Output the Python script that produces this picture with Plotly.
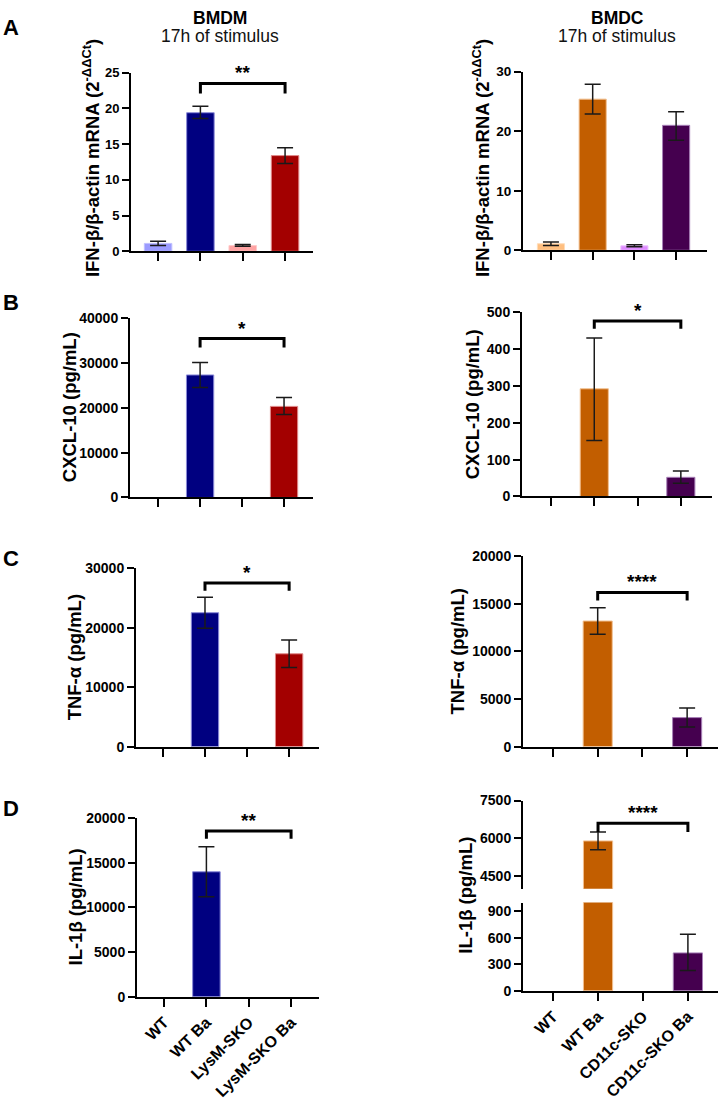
import plotly.graph_objects as go

W, H = 720, 1100

cats_bmdm = ["WT", "WT Ba", "LysM-SKO", "LysM-SKO Ba"]
cats_bmdc = ["WT", "WT Ba", "CD11c-SKO", "CD11c-SKO Ba"]

colors_bmdm = ["#9b9bff", "#000080", "#ffa3a3", "#a30000"]
colors_bmdc = ["#ffbf80", "#c25e00", "#df8cff", "#45004f"]
edges_bmdm = ["#c0c0ff", "#8a8ad8", "#ffcaca", "#e08a8a"]
edges_bmdc = ["#ffdcb8", "#f2c090", "#ecc0ff", "#a880b8"]

# A  IFN-beta / beta-actin mRNA (2^-ddCt)
ifn_bmdm = [1.1, 19.4, 0.8, 13.4]
ifn_bmdm_lo = [0.8, 18.6, 0.7, 12.3]
ifn_bmdm_hi = [1.4, 20.3, 0.95, 14.5]
ifn_bmdc = [1.1, 25.4, 0.75, 21.0]
ifn_bmdc_lo = [0.8, 22.9, 0.6, 18.5]
ifn_bmdc_hi = [1.4, 27.9, 0.95, 23.3]
# B  CXCL-10 (pg/mL)
cxcl_bmdm = [0, 27300, 0, 20300]
cxcl_bmdm_lo = [0, 24500, 0, 18500]
cxcl_bmdm_hi = [0, 30100, 0, 22300]
cxcl_bmdc = [0, 292, 0, 52]
cxcl_bmdc_lo = [0, 152, 0, 36]
cxcl_bmdc_hi = [0, 430, 0, 69]
# C  TNF-alpha (pg/mL)
tnf_bmdm = [0, 22500, 0, 15600]
tnf_bmdm_lo = [0, 19900, 0, 13300]
tnf_bmdm_hi = [0, 25100, 0, 17900]
tnf_bmdc = [0, 13200, 0, 3050]
tnf_bmdc_lo = [0, 11800, 0, 2050]
tnf_bmdc_hi = [0, 14600, 0, 4050]
# D  IL-1beta (pg/mL)
il1_bmdm = [0, 14000, 0, 0]
il1_bmdm_lo = [0, 11200, 0, 0]
il1_bmdm_hi = [0, 16800, 0, 0]
il1_bmdc = [0, 5900, 0, 430]
il1_bmdc_lo = [0, 5550, 0, 230]
il1_bmdc_hi = [0, 6250, 0, 640]

# significance brackets: (label, top value, end value)
sig_ifn_bmdm = ("**", 23.5, 22.1)
sig_cxcl_bmdm = ("*", 35400, 33400)
sig_cxcl_bmdc = ("*", 476, 455)
sig_tnf_bmdm = ("*", 27500, 26200)
sig_tnf_bmdc = ("****", 16200, 15350)
sig_il1_bmdm = ("**", 18570, 17700)
sig_il1_bmdc = ("****", 6600, 6250)

ylab_ifn = "<b>IFN-β/β-actin mRNA (2<sup>-ΔΔCt</sup>)</b>"
ylab_cxcl = "<b>CXCL-10 (pg/mL)</b>"
ylab_tnf = "<b>TNF-α (pg/mL)</b>"
ylab_il1 = "<b>IL-1β (pg/mL)</b>"

FONT = "Liberation Sans, Arial, sans-serif"

def fx(px):
    return px / W

def fy(py):
    return 1 - py / H

fig = go.Figure()
layout = dict(width=W, height=H, margin=dict(l=0, r=0, t=0, b=0),
              paper_bgcolor="white", plot_bgcolor="white", showlegend=False)
annotations = []
shapes = []

def yaxis_def(dom, rng, tickvals, tsize, anchor):
    return dict(domain=[fy(dom[1]), fy(dom[0])], range=rng, tickvals=tickvals,
                tickformat="d",
                ticks="outside", ticklen=7, tickwidth=2, tickcolor="black",
                showline=True, linewidth=2, linecolor="black", showgrid=False,
                zeroline=False, anchor=anchor, fixedrange=True,
                tickfont=dict(family=FONT, size=tsize, color="black", weight="bold"))

def xaxis_def(dom, rng, cats, labels, tsize, anchor):
    return dict(domain=[fx(dom[0]), fx(dom[1])], range=rng, type="category",
                categoryorder="array", categoryarray=cats,
                tickvals=cats, ticktext=[f"<b>{c}</b>" for c in cats],
                ticks="outside", ticklen=8, tickwidth=2, tickcolor="black",
                showline=True, linewidth=2, linecolor="black", showgrid=False,
                zeroline=False, anchor=anchor, showticklabels=labels,
                tickangle=-45, fixedrange=True,
                tickfont=dict(family=FONT, size=tsize, color="black", weight="bold"))

panels = [
    (1, cats_bmdm, colors_bmdm, edges_bmdm, ifn_bmdm, ifn_bmdm_lo, ifn_bmdm_hi,
     (131, 313), [-0.64, 3.66], (66, 248), [0, 25], [0, 5, 10, 15, 20, 25],
     sig_ifn_bmdm, ylab_ifn, (91, 153), 13, False),
    (2, cats_bmdc, colors_bmdc, edges_bmdc, ifn_bmdc, ifn_bmdc_lo, ifn_bmdc_hi,
     (523, 707), [-0.67, 3.74], (65, 247), [0, 30], [0, 10, 20, 30],
     None, ylab_ifn, (481, 153), 13.5, False),
    (3, cats_bmdm, colors_bmdm, edges_bmdm, cxcl_bmdm, cxcl_bmdm_lo, cxcl_bmdm_hi,
     (130, 313), [-0.67, 3.69], (316, 499), [0, 40000], [0, 10000, 20000, 30000, 40000],
     sig_cxcl_bmdm, ylab_cxcl, (69, 407), 14, False),
    (4, cats_bmdc, colors_bmdc, edges_bmdc, cxcl_bmdc, cxcl_bmdc_lo, cxcl_bmdc_hi,
     (522, 712), [-0.67, 3.72], (310, 498), [0, 500], [0, 100, 200, 300, 400, 500],
     sig_cxcl_bmdc, ylab_cxcl, (472, 404), 14, False),
    (5, cats_bmdm, colors_bmdm, edges_bmdm, tnf_bmdm, tnf_bmdm_lo, tnf_bmdm_hi,
     (136, 319), [-0.64, 3.71], (571, 753), [0, 30000], [0, 10000, 20000, 30000],
     sig_tnf_bmdm, ylab_tnf, (74, 662), 14, False),
    (6, cats_bmdc, colors_bmdc, edges_bmdc, tnf_bmdc, tnf_bmdc_lo, tnf_bmdc_hi,
     (523, 718), [-0.67, 3.69], (559, 753), [0, 20000], [0, 5000, 10000, 15000, 20000],
     sig_tnf_bmdc, ylab_tnf, (457, 656), 14, False),
    (7, cats_bmdm, colors_bmdm, edges_bmdm, il1_bmdm, il1_bmdm_lo, il1_bmdm_hi,
     (137, 319), [-0.64, 3.66], (826, 1008), [0, 20000], [0, 5000, 10000, 15000, 20000],
     sig_il1_bmdm, ylab_il1, (75, 917), 14, True),
]

ylab_font = dict(family=FONT, size=18.5, color="black", weight="bold")
star_font = dict(family=FONT, size=19, color="black", weight="bold")

def add_bars(cats, colors, edges, vals, lo, hi, xa, ya):
    # undetected groups (value 0) are left empty, as in the reference
    keep = [v > 0 for v in vals]
    xs = [c for c, k in zip(cats, keep) if k]
    ys = [v for v, k in zip(vals, keep) if k]
    up = [h - v for v, h, k in zip(vals, hi, keep) if k]
    dn = [v - l for v, l, k in zip(vals, lo, keep) if k]
    fig.add_trace(go.Bar(
        x=xs, y=ys, xaxis=xa, yaxis=ya, width=0.65,
        marker=dict(color=[c for c, k in zip(colors, keep) if k],
                    line=dict(color=[e for e, k in zip(edges, keep) if k], width=1)),
        error_y=dict(type="data", symmetric=False, array=up, arrayminus=dn,
                     color="#1a1a1a", thickness=1.5, width=8),
        hoverinfo="skip"))

def add_sig(sig, xref, yref):
    lab, top, end = sig
    shapes.append(dict(type="path", xref=xref, yref=yref,
                       path=f"M 1,{end} L 1,{top} L 3,{top} L 3,{end}",
                       line=dict(color="black", width=3)))
    annotations.append(dict(text=f"<b>{lab}</b>", x=2, y=top, xref=xref, yref=yref,
                            xanchor="center", yanchor="bottom", showarrow=False,
                            yshift=-2, font=star_font))

for (i, cats, colors, edges, vals, lo, hi, xdom, xr, ydom, yr, tv, sig, ylab,
     lpos, tsz, showx) in panels:
    xk = "xaxis" if i == 1 else f"xaxis{i}"
    yk = "yaxis" if i == 1 else f"yaxis{i}"
    xa = "x" if i == 1 else f"x{i}"
    ya = "y" if i == 1 else f"y{i}"
    layout[xk] = xaxis_def(xdom, xr, cats, showx, 16, ya)
    layout[yk] = yaxis_def(ydom, yr, tv, tsz, xa)
    add_bars(cats, colors, edges, vals, lo, hi, xa, ya)
    if sig:
        add_sig(sig, xa, ya)
    annotations.append(dict(text=ylab, x=fx(lpos[0]), y=fy(lpos[1]), xref="paper",
                            yref="paper", xanchor="center", yanchor="middle",
                            textangle=-90, showarrow=False, font=ylab_font))

# D right: broken y axis (lower 0-1000, upper 4000-7500)
layout["xaxis8"] = xaxis_def((523, 718), [-0.67, 3.67], cats_bmdc, True, 16, "y8")
layout["yaxis8"] = yaxis_def((912, 1002), [0, 1000], [0, 300, 600, 900], 14, "x8")
layout["yaxis9"] = yaxis_def((808, 898), [4000, 7500], [4500, 6000, 7500], 14, "x8")
add_bars(cats_bmdc, colors_bmdc, edges_bmdc, il1_bmdc, il1_bmdc_lo, il1_bmdc_hi, "x8", "y8")
add_bars(cats_bmdc, colors_bmdc, edges_bmdc, il1_bmdc, il1_bmdc_lo, il1_bmdc_hi, "x8", "y9")
add_sig(sig_il1_bmdc, "x8", "y9")
annotations.append(dict(text=ylab_il1, x=fx(466), y=fy(905), xref="paper", yref="paper",
                        xanchor="center", yanchor="middle", textangle=-90,
                        showarrow=False, font=ylab_font))

# Column titles
for txt, cx in (("BMDM", 220), ("BMDC", 617)):
    annotations.append(dict(text=f"<b>{txt}</b>", x=fx(cx), y=fy(10), xref="paper",
                            yref="paper", xanchor="center", yanchor="middle",
                            showarrow=False,
                            font=dict(family=FONT, size=17.5, color="black", weight="bold")))
    annotations.append(dict(text="17h of stimulus", x=fx(cx), y=fy(29), xref="paper",
                            yref="paper", xanchor="center", yanchor="middle",
                            showarrow=False,
                            font=dict(family=FONT, size=17.5, color="#111111")))

# Panel letters
for letter, py in (("A", 20), ("B", 300), ("C", 561), ("D", 816)):
    annotations.append(dict(text=f"<b>{letter}</b>", x=fx(11), y=fy(py), xref="paper",
                            yref="paper", xanchor="center", yanchor="middle",
                            showarrow=False,
                            font=dict(family=FONT, size=22, color="black", weight="bold")))

layout["annotations"] = annotations
layout["shapes"] = shapes
fig.update_layout(**layout)
fig.write_html("out.html")
